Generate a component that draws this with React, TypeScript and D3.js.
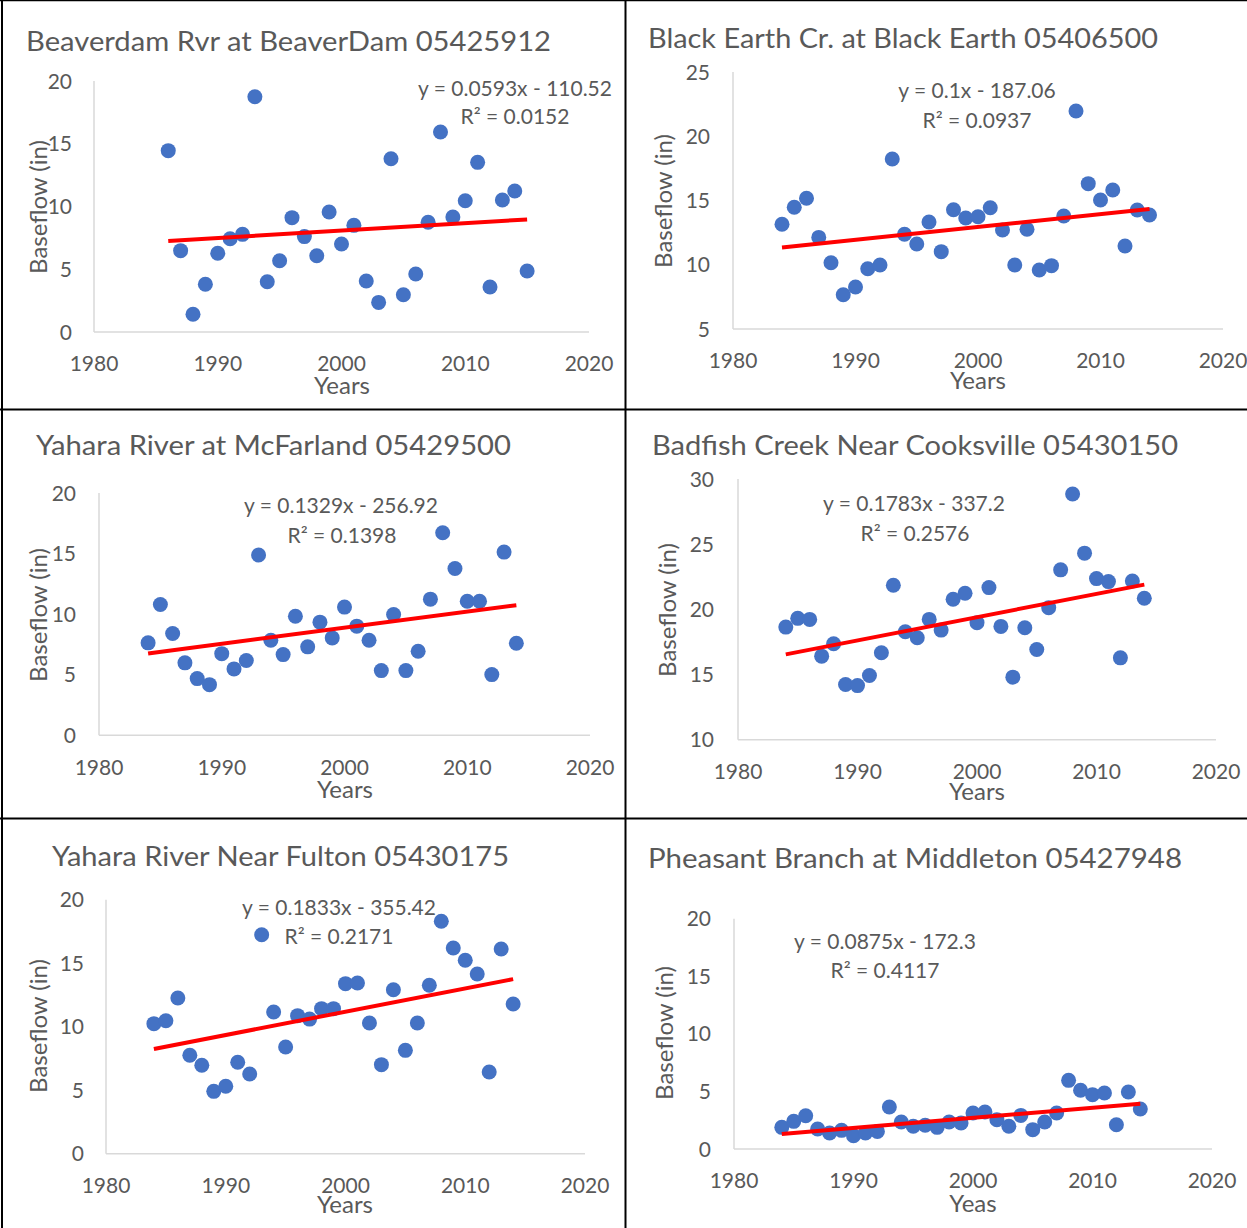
import React from "react";
import * as d3 from "d3";

// ---------- DATA ----------
const titles = [
  "Beaverdam Rvr at BeaverDam 05425912",
  "Black Earth Cr. at Black Earth 05406500",
  "Yahara River at McFarland 05429500",
  "Badfish Creek Near Cooksville 05430150",
  "Yahara River Near Fulton 05430175",
  "Pheasant Branch at Middleton 05427948",
];
const xTitles = ["Years", "Years", "Years", "Years", "Years", "Yeas"];
const yTitle = "Baseflow (in)";

const equations = [
  "y = 0.0593x - 110.52",
  "y = 0.1x - 187.06",
  "y = 0.1329x - 256.92",
  "y = 0.1783x - 337.2",
  "y = 0.1833x - 355.42",
  "y = 0.0875x - 172.3",
];
const r2Labels = ["R² = 0.0152", "R² = 0.0937", "R² = 0.1398", "R² = 0.2576", "R² = 0.2171", "R² = 0.4117"];
const slopes = [0.0593, 0.1, 0.1329, 0.1783, 0.1833, 0.0875];
const intercepts = [-110.52, -187.06, -256.92, -337.2, -355.42, -172.3];

const xTicks = [1980, 1990, 2000, 2010, 2020];
const yTicksList = [
  [0, 5, 10, 15, 20],
  [5, 10, 15, 20, 25],
  [0, 5, 10, 15, 20],
  [10, 15, 20, 25, 30],
  [0, 5, 10, 15, 20],
  [0, 5, 10, 15, 20],
];

const beaverdamYears = [1986, 1987, 1988, 1989, 1990, 1991, 1992, 1993, 1994, 1995, 1996, 1997, 1998, 1999, 2000, 2001, 2002, 2003, 2004, 2005, 2006, 2007, 2008, 2009, 2010, 2011, 2012, 2013, 2014, 2015];
const commonYears = [1984, 1985, 1986, 1987, 1988, 1989, 1990, 1991, 1992, 1993, 1994, 1995, 1996, 1997, 1998, 1999, 2000, 2001, 2002, 2003, 2004, 2005, 2006, 2007, 2008, 2009, 2010, 2011, 2012, 2013, 2014];

const beaverdam = [14.45, 6.48, 1.41, 3.8, 6.27, 7.43, 7.78, 18.75, 4.0, 5.68, 9.11, 7.6, 6.08, 9.56, 7.01, 8.5, 4.06, 2.36, 13.81, 2.97, 4.62, 8.74, 15.94, 9.16, 10.46, 13.52, 3.59, 10.52, 11.24, 4.86];
const blackEarth = [13.15, 14.47, 15.17, 12.13, 10.16, 7.67, 8.27, 9.69, 9.98, 18.23, 12.37, 11.61, 13.33, 11.02, 14.28, 13.64, 13.74, 14.44, 12.7, 9.98, 12.76, 9.59, 9.93, 13.79, 21.96, 16.31, 15.04, 15.82, 11.46, 14.26, 13.87];
const mcFarland = [7.63, 10.8, 8.4, 5.98, 4.68, 4.18, 6.74, 5.48, 6.17, 14.88, 7.85, 6.66, 9.83, 7.3, 9.34, 8.04, 10.58, 9.01, 7.85, 5.34, 9.97, 5.34, 6.94, 11.24, 16.72, 13.77, 11.07, 11.07, 5.01, 15.12, 7.6];
const badfish = [18.64, 19.31, 19.23, 16.41, 17.36, 14.23, 14.15, 14.92, 16.67, 21.85, 18.28, 17.82, 19.23, 18.41, 20.77, 21.23, 18.98, 21.67, 18.69, 14.8, 18.59, 16.92, 20.13, 23.03, 28.85, 24.31, 22.36, 22.13, 16.28, 22.18, 20.85];
const fulton = [10.24, 10.47, 12.26, 7.75, 6.96, 4.91, 5.31, 7.2, 6.28, 17.24, 11.16, 8.4, 10.87, 10.6, 11.42, 11.42, 13.39, 13.44, 10.29, 7.01, 12.91, 8.14, 10.29, 13.26, 18.3, 16.2, 15.23, 14.15, 6.43, 16.12, 11.79];
const pheasant = [1.88, 2.4, 2.89, 1.74, 1.39, 1.62, 1.16, 1.39, 1.53, 3.65, 2.34, 1.97, 2.06, 1.88, 2.34, 2.26, 3.13, 3.21, 2.55, 1.97, 2.92, 1.68, 2.34, 3.13, 5.96, 5.1, 4.72, 4.86, 2.11, 4.95, 3.47];

const seriesYears = [beaverdamYears, commonYears, commonYears, commonYears, commonYears, commonYears];
const seriesValues = [beaverdam, blackEarth, mcFarland, badfish, fulton, pheasant];

// ---------- LAYOUT ----------
const layouts = [
  { x0: 94, x1: 589, y0: 332, y1: 81, tX: 26, tW: 525, tY: 41.5, eqX: 515, eqY: 88, r2X: 515, r2Y: 116.5, ytX: 38, ytY: 207, xtY: 363, xlX: 342, xlY: 385, ykX: 72 },
  { x0: 733, x1: 1223, y0: 329, y1: 72, tX: 648, tW: 510, tY: 39, eqX: 977, eqY: 90, r2X: 977, r2Y: 120, ytX: 663, ytY: 201, xtY: 360, xlX: 978, xlY: 380, ykX: 710 },
  { x0: 99, x1: 590, y0: 735.3, y1: 493, tX: 36, tW: 475, tY: 446, eqX: 341, eqY: 505, r2X: 342, r2Y: 535, ytX: 38, ytY: 615, xtY: 767, xlX: 345, xlY: 789, ykX: 76 },
  { x0: 738, x1: 1216, y0: 739.7, y1: 479, tX: 652, tW: 526, tY: 446, eqX: 914, eqY: 503.5, r2X: 915, r2Y: 533, ytX: 667, ytY: 610, xtY: 771, xlX: 977, xlY: 791, ykX: 714 },
  { x0: 106, x1: 585, y0: 1153.7, y1: 899.7, tX: 52, tW: 457, tY: 857, eqX: 339, eqY: 907, r2X: 339, r2Y: 936, ytX: 38, ytY: 1026, xtY: 1185, xlX: 345, xlY: 1204, ykX: 84 },
  { x0: 734, x1: 1212, y0: 1149, y1: 918.7, tX: 648, tW: 534, tY: 858.5, eqX: 885, eqY: 941, r2X: 885, r2Y: 970.5, ytX: 664, ytY: 1033, xtY: 1180, xlX: 973, xlY: 1203, ykX: 711 },
];

const FONT = "Lato, 'Open Sans', sans-serif";
const TEXT = "#595959";
const AXIS = "#D9D9D9";
const DOT = "#4472C4";
const TREND = "#FF0000";

function Panel({ i }: { i: number }) {
  const L = layouts[i];
  const yT = yTicksList[i];
  const x = d3.scaleLinear().domain([1980, 2020]).range([L.x0, L.x1]);
  const y = d3.scaleLinear().domain([yT[0], yT[yT.length - 1]]).range([L.y0, L.y1]);
  const yrs = seriesYears[i];
  const vals = seriesValues[i];
  const pts = yrs.map((yr, k) => [yr, vals[k]] as [number, number]);
  const first = d3.min(yrs) as number;
  const last = d3.max(yrs) as number;
  const trend = [first, last].map((yr) => [yr, slopes[i] * yr + intercepts[i]] as [number, number]);
  const line = d3.line<[number, number]>().x((d) => x(d[0])).y((d) => y(d[1]));
  const tickFs = 21;
  const eqFs = 21;
  const titleFs = 26;
  const axFs = 24;
  return (
    <g fontFamily={FONT} fill={TEXT}>
      <text x={L.tX} y={L.tY + 0.36 * titleFs} fontSize={titleFs} textLength={L.tW} lengthAdjust="spacingAndGlyphs">
        {titles[i]}
      </text>
      <line x1={L.x0} x2={L.x0} y1={L.y1} y2={L.y0} stroke={AXIS} strokeWidth={1.5} />
      <line x1={L.x0} x2={L.x1} y1={L.y0} y2={L.y0} stroke={AXIS} strokeWidth={1.5} />
      {yT.map((t) => (
        <text key={"y" + t} x={L.ykX} y={y(t) + 0.36 * tickFs} fontSize={tickFs} textAnchor="end">
          {t}
        </text>
      ))}
      {xTicks.map((t) => (
        <text key={"x" + t} x={x(t)} y={L.xtY + 0.36 * tickFs} fontSize={tickFs} textAnchor="middle">
          {t}
        </text>
      ))}
      <text transform={`translate(${L.ytX},${L.ytY}) rotate(-90)`} x={0} y={0.36 * axFs} fontSize={axFs} textAnchor="middle">
        {yTitle}
      </text>
      <text x={L.xlX} y={L.xlY + 0.36 * axFs} fontSize={axFs} textAnchor="middle">
        {xTitles[i]}
      </text>
      {pts.map((p, k) => (
        <circle key={k} cx={x(p[0])} cy={y(p[1])} r={7.5} fill={DOT} />
      ))}
      <path d={line(trend) || ""} stroke={TREND} strokeWidth={4} fill="none" />
      <text x={L.eqX} y={L.eqY + 0.36 * eqFs} fontSize={eqFs} textAnchor="middle">
        {equations[i]}
      </text>
      <text x={L.r2X} y={L.r2Y + 0.36 * eqFs} fontSize={eqFs} textAnchor="middle">
        {r2Labels[i]}
      </text>
    </g>
  );
}

export default function App() {
  return (
    <svg width={1247} height={1228} style={{ position: "absolute", left: 0, top: 0, background: "#fff" }}>
      <rect x={0} y={0} width={1247} height={1228} fill="#fff" />
      {titles.map((_, i) => (
        <Panel key={i} i={i} />
      ))}
      <g stroke="#000">
        <line x1={0} x2={1247} y1={0.5} y2={0.5} strokeWidth={1.5} />
        <line x1={2} x2={2} y1={0} y2={1228} strokeWidth={2} />
        <line x1={625.5} x2={625.5} y1={0} y2={1228} strokeWidth={2} />
        <line x1={0} x2={1247} y1={409.5} y2={409.5} strokeWidth={2} />
        <line x1={0} x2={1247} y1={818.5} y2={818.5} strokeWidth={2} />
      </g>
    </svg>
  );
}
